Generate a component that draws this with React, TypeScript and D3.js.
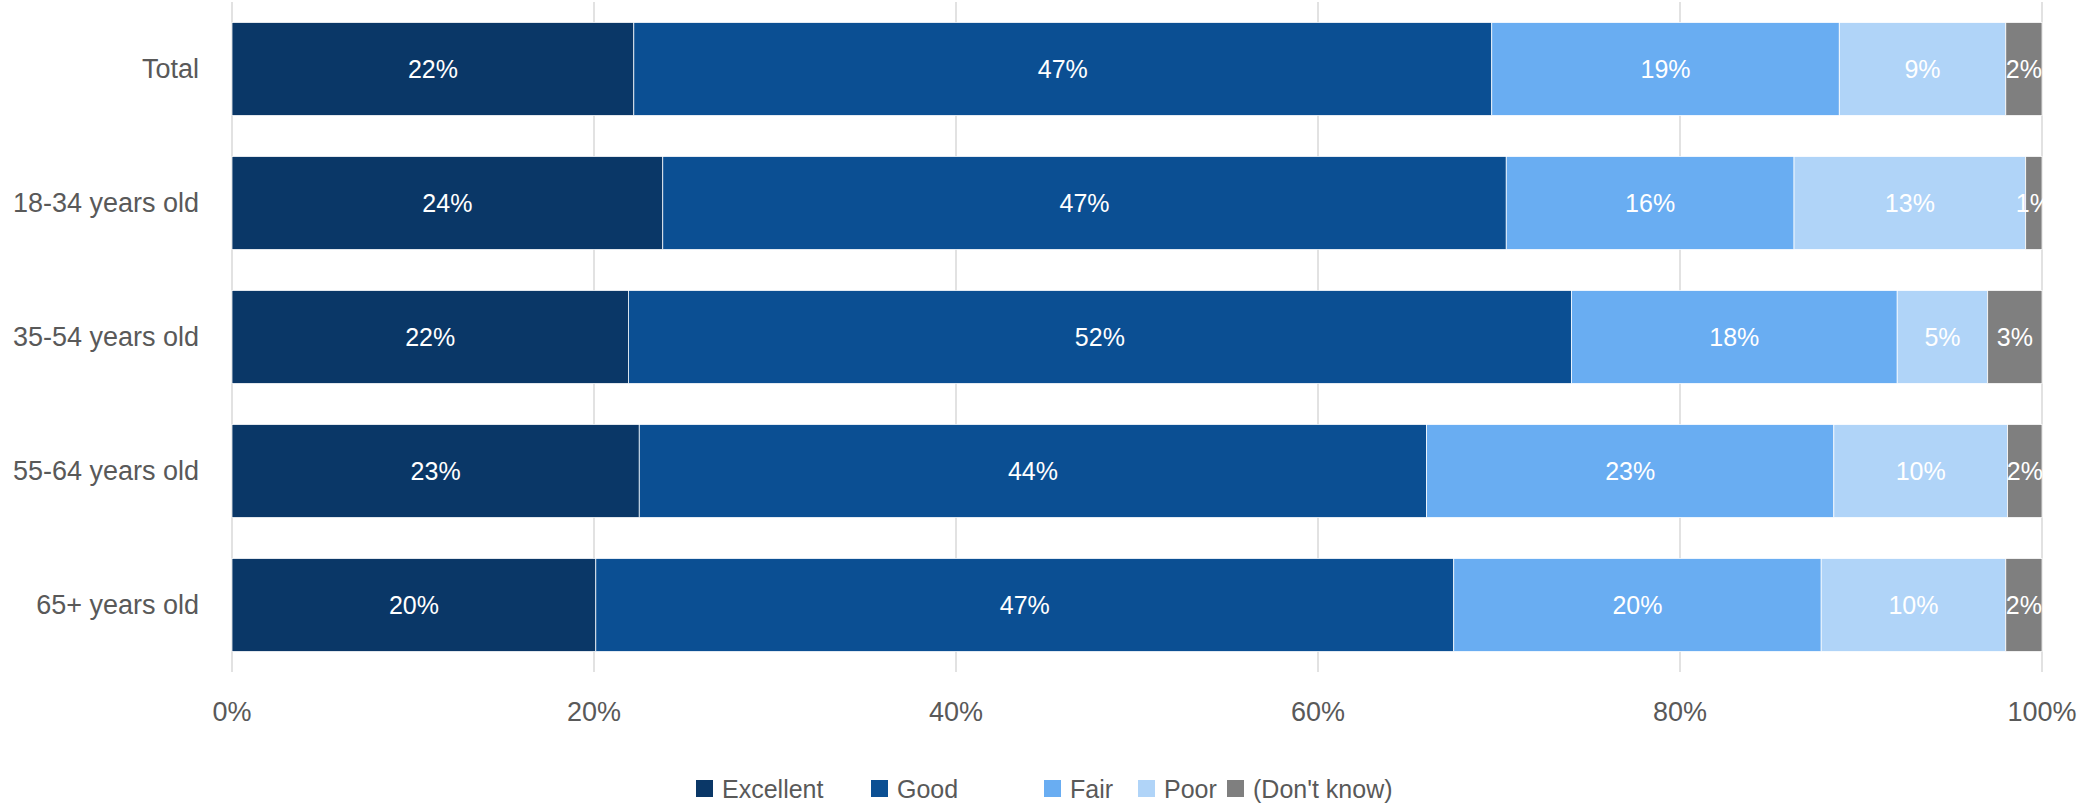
import React from "react";
import * as d3 from "d3";

const categories = ["Total", "18-34 years old", "35-54 years old", "55-64 years old", "65+ years old"];
const seriesNames = ["Excellent", "Good", "Fair", "Poor", "(Don't know)"];
const excellent = [22.2, 23.8, 21.9, 22.5, 20.1];
const good = [47.4, 46.6, 52.1, 43.5, 47.4];
const fair = [19.2, 15.9, 18.0, 22.5, 20.3];
const poor = [9.2, 12.8, 5.0, 9.6, 10.2];
const dontKnow = [2.0, 0.9, 3.0, 1.9, 2.0];
const xTicks = [0, 20, 40, 60, 80, 100];
const colors = ["#0A3767", "#0B4F93", "#69ADF2", "#B0D4F8", "#7F7F7F"];

const W = 2079, H = 807;
const plot = { left: 232, right: 2042, top: 2, bottom: 672 };
const FONT = "'Liberation Sans', Arial, sans-serif";

export default function App() {
  const x = d3.scaleLinear().domain([0, 100]).range([plot.left, plot.right]);
  const y = d3.scaleBand<string>().domain(categories).range([plot.top, plot.bottom]).paddingInner(0.306).paddingOuter(0.153);
  const rows = categories.map((c, i) => ({ cat: c, Excellent: excellent[i], Good: good[i], Fair: fair[i], Poor: poor[i], "(Don't know)": dontKnow[i] }));
  const stack = d3.stack<any>().keys(seriesNames)(rows);

  const legendX = [696, 871, 1044, 1138, 1227];
  return (
    <div style={{ position: "absolute", left: 0, top: 0 }}>
      <svg width={W} height={H} style={{ display: "block", background: "#fff" }}>
        {xTicks.map((t) => (
          <line key={t} x1={x(t)} x2={x(t)} y1={plot.top} y2={plot.bottom} stroke="#D9D9D9" strokeWidth={1.5} />
        ))}
        {stack.map((s, si) => (
          <g key={s.key}>
            {s.map((d, i) => (
              <rect key={i} x={x(d[0])} y={y(categories[i])} width={x(d[1]) - x(d[0])} height={y.bandwidth()} fill={colors[si]} stroke="#fff" strokeWidth={0.75} />
            ))}
          </g>
        ))}
        {stack.map((s, si) => (
          <g key={"l" + s.key}>
            {s.map((d, i) => (
              <text key={i} x={(x(d[0]) + x(d[1])) / 2} y={(y(categories[i]) as number) + y.bandwidth() / 2} dy="0.35em" textAnchor="middle" fill="#fff" fontFamily={FONT} fontSize={25}>
                {Math.round(d[1] - d[0]) + "%"}
              </text>
            ))}
          </g>
        ))}
        {categories.map((c) => (
          <text key={c} x={199} y={(y(c) as number) + y.bandwidth() / 2} dy="0.35em" textAnchor="end" fill="#595959" fontFamily={FONT} fontSize={27}>{c}</text>
        ))}
        {xTicks.map((t) => (
          <text key={t} x={x(t)} y={712} dy="0.35em" textAnchor="middle" fill="#595959" fontFamily={FONT} fontSize={27}>{t + "%"}</text>
        ))}
        {seriesNames.map((n, i) => (
          <g key={n}>
            <rect x={legendX[i]} y={780} width={17} height={17} fill={colors[i]} />
            <text x={legendX[i] + 26} y={789} dy="0.35em" fill="#595959" fontFamily={FONT} fontSize={25}>{n}</text>
          </g>
        ))}
      </svg>
    </div>
  );
}
